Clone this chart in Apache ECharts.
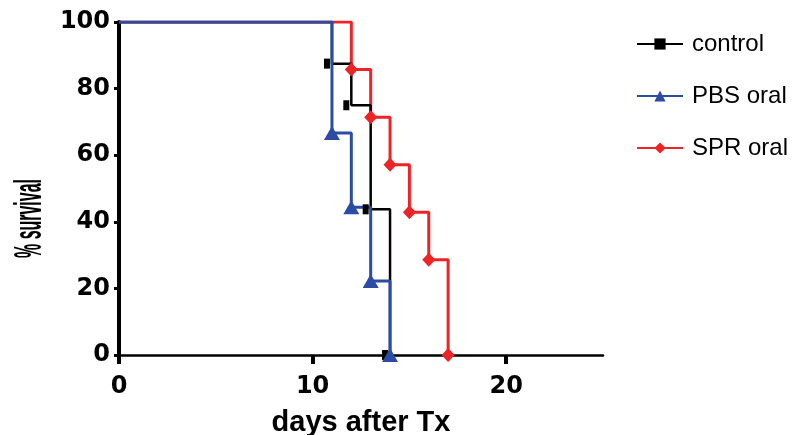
<!DOCTYPE html>
<html>
<head>
<meta charset="utf-8">
<script src="https://cdn.jsdelivr.net/npm/echarts@6/dist/echarts.min.js"></script>
<style>
  html, body { margin: 0; padding: 0; background: #fff; }
  #chart { width: 810px; height: 435px; }
</style>
</head>
<body>
<div id="chart"></div>
<script>
// survival data, [day, % survival] at each step
const seriesNames = ['control', 'PBS oral', 'SPR oral']
const controlData = [[0, 100], [11, 87.5], [12, 75], [13, 43.75], [14, 0]]
const pbsData = [[0, 100], [11, 66.7], [12, 44.4], [13, 22.2], [14, 0]]
const sprData = [[0, 100], [12, 85.7], [13, 71.4], [14, 57.1], [15, 42.9], [16, 28.6], [17, 0]]
const xTicks = [0, 10, 20]
const yTicks = [0, 20, 40, 60, 80, 100]

const colors = { control: '#000000', pbs: '#2C4CA4', spr: '#EE2326' }

const chart = echarts.init(document.getElementById('chart'))

// first point has no marker
const withMarks = data => data.map((d, i) => i === 0 ? { value: d, symbol: 'none' } : d)

const option = {
  animation: false,
  grid: { left: 119, top: 22, right: 207, bottom: 80, outerBoundsMode: 'none' },
  legend: {
    orient: 'vertical',
    left: 631,
    top: 26,
    itemWidth: 46,
    itemHeight: 14,
    itemGap: 26,
    textStyle: {
      fontFamily: 'Liberation Sans, Arial, sans-serif',
      fontSize: 24,
      lineHeight: 26,
      padding: [0, 0, 0, 4],
      color: '#000'
    },
    data: seriesNames
  },
  xAxis: {
    type: 'value',
    min: 0,
    max: 25,
    interval: 5,
    name: 'days after Tx',
    nameLocation: 'middle',
    nameGap: 53,
    nameTextStyle: {
      fontFamily: 'Liberation Sans, Arial, sans-serif',
      fontWeight: 'bold',
      fontSize: 29,
      color: '#000'
    },
    splitLine: { show: false },
    axisLine: { onZero: false, lineStyle: { color: '#000', width: 2.5 } },
    axisTick: {
      length: 9,
      lineStyle: { color: '#000', width: 4 },
      customValues: xTicks
    },
    axisLabel: {
      customValues: xTicks,
      margin: 20,
      fontFamily: 'DejaVu Sans, sans-serif',
      fontWeight: 'bold',
      fontSize: 24,
      color: '#000'
    }
  },
  yAxis: {
    type: 'value',
    min: 0,
    max: 100,
    interval: 20,
    splitLine: { show: false },
    axisLine: { show: true, lineStyle: { color: '#000', width: 4 } },
    axisTick: { show: true, length: 5, lineStyle: { color: '#000', width: 3 } },
    axisLabel: {
      margin: 9,
      fontFamily: 'DejaVu Sans, sans-serif',
      fontWeight: 'bold',
      fontSize: 24,
      color: '#000',
      formatter: v => (yTicks.includes(v) ? String(v) : '')
    }
  },
  graphic: [{
    type: 'text',
    x: 12,
    y: 258,
    rotation: Math.PI / 2,
    scaleX: 0.42,
    style: {
      text: '% survival',
      fontFamily: 'Liberation Sans, Arial, sans-serif',
      fontWeight: 'bold',
      fontSize: 38,
      fill: '#000'
    }
  }],
  series: [
    {
      name: 'SPR oral',
      type: 'line',
      step: 'end',
      data: withMarks(sprData),
      color: colors.spr,
      lineStyle: { width: 3 },
      symbol: 'diamond',
      symbolSize: [13, 14],
      itemStyle: { color: colors.spr }
    },
    {
      name: 'control',
      type: 'line',
      step: 'end',
      data: withMarks(controlData),
      color: colors.control,
      lineStyle: { width: 2.5 },
      symbol: 'rect',
      symbolSize: [6, 10],
      symbolOffset: [-5, 0],
      itemStyle: { color: colors.control }
    },
    {
      name: 'PBS oral',
      type: 'line',
      step: 'end',
      data: withMarks(pbsData),
      color: colors.pbs,
      lineStyle: { width: 3 },
      symbol: 'triangle',
      symbolSize: [16, 14],
      itemStyle: { color: colors.pbs }
    }
  ]
}

chart.setOption(option)
</script>
</body>
</html>
